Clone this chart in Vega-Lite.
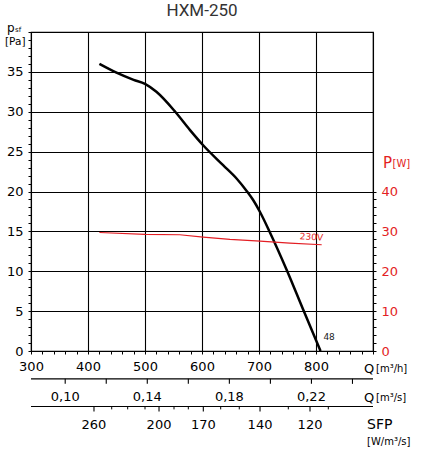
{
  "$schema": "https://vega.github.io/schema/vega-lite/v6.json",
  "padding": {"left": 5, "top": 2, "right": 5, "bottom": 5},
  "width": 342,
  "height": 319,
  "title": {
    "text": "HXM-250",
    "font": "Roboto",
    "fontSize": 17,
    "fontWeight": "normal",
    "color": "#333333",
    "offset": 2
  },
  "config": {
    "font": "DejaVu Sans",
    "view": {"stroke": "black", "strokeWidth": 1.2},
    "axis": {
      "labelColor": "black",
      "tickColor": "black",
      "gridColor": "black",
      "gridWidth": 1.1,
      "labelFontSize": 13,
      "labelOverlap": false,
      "labelFlush": false,
      "labelBound": false,
      "domain": false,
      "title": null
    }
  },
  "data": {"values": [{}]},
  "datasets": {
    "pressure": [
      {"q": 420, "pa": 36.0},
      {"q": 450, "pa": 34.9},
      {"q": 480, "pa": 34.0},
      {"q": 500, "pa": 33.5},
      {"q": 520, "pa": 32.5},
      {"q": 553, "pa": 30.0},
      {"q": 579, "pa": 27.7},
      {"q": 602, "pa": 25.8},
      {"q": 637, "pa": 23.3},
      {"q": 661, "pa": 21.6},
      {"q": 678, "pa": 20.1},
      {"q": 690, "pa": 18.9},
      {"q": 702, "pa": 17.4},
      {"q": 719, "pa": 14.9},
      {"q": 749, "pa": 10.1},
      {"q": 778, "pa": 5.1},
      {"q": 808, "pa": 0}
    ],
    "power": [
      {"q": 420, "p": 29.7},
      {"q": 500, "p": 29.25},
      {"q": 561, "p": 29.15},
      {"q": 602, "p": 28.55},
      {"q": 649, "p": 28.0},
      {"q": 702, "p": 27.55},
      {"q": 754, "p": 27.05},
      {"q": 810, "p": 26.65}
    ],
    "flow_s": [
      {"q": 360, "label": "0,10"},
      {"q": 432, "label": ""},
      {"q": 504, "label": "0,14"},
      {"q": 576, "label": ""},
      {"q": 648, "label": "0,18"},
      {"q": 720, "label": ""},
      {"q": 792, "label": "0,22"},
      {"q": 864, "label": ""}
    ],
    "sfp": [
      {"q": 410.5, "label": "260", "major": true},
      {"q": 441.6, "label": "", "major": false},
      {"q": 469.6, "label": "", "major": false},
      {"q": 500, "label": "", "major": false},
      {"q": 524.6, "label": "200", "major": true},
      {"q": 550.9, "label": "", "major": false},
      {"q": 576, "label": "", "major": false},
      {"q": 602.3, "label": "170", "major": true},
      {"q": 632.8, "label": "", "major": false},
      {"q": 665.4, "label": "", "major": false},
      {"q": 701.8, "label": "140", "major": true},
      {"q": 751.4, "label": "", "major": false},
      {"q": 789.5, "label": "120", "major": true},
      {"q": 821.6, "label": "", "major": false}
    ]
  },
  "layer": [
    {
      "layer": [
        {
          "data": {"name": "pressure"},
          "mark": {"type": "line", "color": "black", "strokeWidth": 2.5, "interpolate": "monotone"},
          "encoding": {
            "x": {
              "field": "q",
              "type": "quantitative",
              "scale": {"domain": [300, 900], "nice": false, "zero": false},
              "axis": {
                "values": [300, 320, 340, 360, 380, 400, 420, 440, 460, 480, 500, 520, 540, 560, 580, 600, 620, 640, 660, 680, 700, 720, 740, 760, 780, 800, 820, 840, 860, 880, 900],
                "tickCount": 100,
                "format": "d",
                "labelExpr": "datum.value % 100 === 0 && datum.value < 900 ? datum.label : ''",
                "grid": true,
                "gridOpacity": {"condition": {"test": "datum.value % 100 === 0", "value": 1}, "value": 0},
                "tickSize": 3,
                "labelPadding": 6,
                "title": null
              }
            },
            "y": {
              "field": "pa",
              "type": "quantitative",
              "scale": {"domain": [0, 40], "nice": false},
              "axis": {
                "values": [0, 1, 2, 3, 4, 5, 6, 7, 8, 9, 10, 11, 12, 13, 14, 15, 16, 17, 18, 19, 20, 21, 22, 23, 24, 25, 26, 27, 28, 29, 30, 31, 32, 33, 34, 35, 36, 37, 38, 39, 40],
                "tickCount": 100,
                "format": "d",
                "labelExpr": "datum.value % 5 === 0 && datum.value < 40 ? datum.label : ''",
                "grid": true,
                "gridOpacity": {"condition": {"test": "datum.value % 5 === 0", "value": 1}, "value": 0},
                "tickSize": 3,
                "labelPadding": 5,
                "title": null
              }
            }
          }
        },
        {
          "mark": {"type": "text", "text": "48", "fontSize": 9, "color": "#222222"},
          "encoding": {"x": {"datum": 823}, "y": {"datum": 1.7}}
        },
        {
          "mark": {"type": "text", "text": "p", "fontSize": 12, "align": "left", "baseline": "alphabetic", "dx": -24, "dy": 0},
          "encoding": {"x": {"datum": 300}, "y": {"datum": 40}}
        },
        {
          "mark": {"type": "text", "text": "sf", "fontSize": 7, "align": "left", "baseline": "alphabetic", "dx": -16, "dy": 0},
          "encoding": {"x": {"datum": 300}, "y": {"datum": 40}}
        },
        {
          "mark": {"type": "text", "text": "[Pa]", "fontSize": 10.5, "align": "left", "baseline": "middle", "dx": -26, "dy": 10},
          "encoding": {"x": {"datum": 300}, "y": {"datum": 40}}
        },
        {
          "mark": {"type": "text", "text": "Q", "fontSize": 13, "align": "left", "baseline": "middle", "dx": -9, "dy": 17.5},
          "encoding": {"x": {"datum": 900}, "y": {"datum": 0}}
        },
        {
          "mark": {"type": "text", "text": "[m³/h]", "fontSize": 10, "align": "left", "baseline": "middle", "dx": 3, "dy": 18},
          "encoding": {"x": {"datum": 900}, "y": {"datum": 0}}
        },
        {
          "mark": {"type": "rule", "color": "black", "strokeWidth": 1.2},
          "encoding": {"x": {"datum": 300}, "x2": {"datum": 900}, "y": {"datum": -3.49}}
        },
        {
          "data": {"name": "flow_s"},
          "mark": {"type": "rule", "color": "black", "strokeWidth": 1.1},
          "encoding": {"x": {"field": "q", "type": "quantitative"}, "y": {"datum": -3.49}, "y2": {"datum": -4.12}}
        },
        {
          "data": {"name": "flow_s"},
          "mark": {"type": "text", "fontSize": 13, "baseline": "middle"},
          "encoding": {"x": {"field": "q", "type": "quantitative"}, "y": {"datum": -5.76}, "text": {"field": "label"}}
        },
        {
          "mark": {"type": "text", "text": "Q", "fontSize": 13, "align": "left", "baseline": "middle", "dx": -9, "dy": 46.5},
          "encoding": {"x": {"datum": 900}, "y": {"datum": 0}}
        },
        {
          "mark": {"type": "text", "text": "[m³/s]", "fontSize": 10, "align": "left", "baseline": "middle", "dx": 3, "dy": 47},
          "encoding": {"x": {"datum": 900}, "y": {"datum": 0}}
        },
        {
          "mark": {"type": "rule", "color": "black", "strokeWidth": 1.2},
          "encoding": {"x": {"datum": 300}, "x2": {"datum": 900}, "y": {"datum": -6.96}}
        },
        {
          "data": {"name": "sfp"},
          "transform": [{"filter": "datum.major"}],
          "mark": {"type": "rule", "color": "black", "strokeWidth": 1.1},
          "encoding": {"x": {"field": "q", "type": "quantitative"}, "y": {"datum": -6.96}, "y2": {"datum": -7.6}}
        },
        {
          "data": {"name": "sfp"},
          "transform": [{"filter": "!datum.major"}],
          "mark": {"type": "rule", "color": "black", "strokeWidth": 1},
          "encoding": {"x": {"field": "q", "type": "quantitative"}, "y": {"datum": -6.96}, "y2": {"datum": -7.32}}
        },
        {
          "data": {"name": "sfp"},
          "mark": {"type": "text", "fontSize": 13, "baseline": "middle"},
          "encoding": {"x": {"field": "q", "type": "quantitative"}, "y": {"datum": -9.22}, "text": {"field": "label"}}
        },
        {
          "mark": {"type": "text", "text": "SFP", "fontSize": 14, "align": "left", "baseline": "middle", "dx": -6, "dy": 74},
          "encoding": {"x": {"datum": 900}, "y": {"datum": 0}}
        },
        {
          "mark": {"type": "text", "text": "[W/m³/s]", "fontSize": 10, "align": "left", "baseline": "middle", "dx": -6, "dy": 90.5},
          "encoding": {"x": {"datum": 900}, "y": {"datum": 0}}
        }
      ]
    },
    {
      "layer": [
        {
          "data": {"name": "power"},
          "mark": {"type": "line", "color": "#e31e24", "strokeWidth": 1.1},
          "encoding": {
            "x": {"field": "q", "type": "quantitative"},
            "y": {
              "field": "p",
              "type": "quantitative",
              "scale": {"domain": [0, 80], "nice": false},
              "axis": {
                "orient": "right",
                "values": [0, 2, 4, 6, 8, 10, 12, 14, 16, 18, 20, 22, 24, 26, 28, 30, 32, 34, 36, 38, 40],
                "tickCount": 100,
                "format": "d",
                "labelExpr": "datum.value % 10 === 0 ? datum.label : ''",
                "labelColor": "#e31e24",
                "tickSize": 3,
                "labelPadding": 5,
                "grid": false,
                "title": null
              }
            }
          }
        },
        {
          "mark": {"type": "text", "text": "230V", "fontSize": 9, "color": "#e31e24", "angle": 4},
          "encoding": {"x": {"datum": 792}, "y": {"datum": 28.6}}
        },
        {
          "mark": {"type": "text", "text": "P", "fontSize": 15, "color": "#e31e24", "align": "left", "baseline": "middle", "dx": 10, "dy": -28.5},
          "encoding": {"x": {"datum": 900}, "y": {"datum": 40}}
        },
        {
          "mark": {"type": "text", "text": "[W]", "fontSize": 10, "color": "#e31e24", "align": "left", "baseline": "middle", "dx": 19.5, "dy": -28},
          "encoding": {"x": {"datum": 900}, "y": {"datum": 40}}
        }
      ]
    }
  ],
  "resolve": {"scale": {"y": "independent"}}
}
